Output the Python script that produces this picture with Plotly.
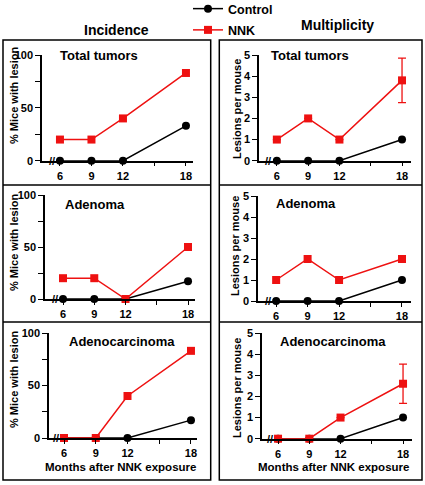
import plotly.graph_objects as go

W, H = 425, 485
months = [6, 9, 12, 18]
xtick_vals = [6, 9, 12, 15, 18]
xtick_text = ["6", "9", "12", "", "18"]

# Incidence (% mice with lesion)
inc_total_ctrl = [0, 0, 0, 33]
inc_total_nnk = [20, 20, 40, 83]
inc_aden_ctrl = [0, 0, 0, 17]
inc_aden_nnk = [20, 20, 0, 50]
inc_carc_ctrl = [0, 0, 0, 17]
inc_carc_nnk = [0, 0, 40, 83]

# Multiplicity (lesions per mouse)
mul_total_ctrl = [0, 0, 0, 1]
mul_total_nnk = [1, 2, 1, 3.8]
mul_total_nnk_err = [0, 0, 0, 1.05]
mul_aden_ctrl = [0, 0, 0, 1]
mul_aden_nnk = [1, 2, 1, 2]
mul_carc_ctrl = [0, 0, 0, 1]
mul_carc_nnk = [0, 0, 1, 2.6]
mul_carc_nnk_err = [0, 0, 0, 0.93]

FONT = "Liberation Sans, Arial, sans-serif"
RED = "#ee1111"

panels = [
    dict(title="Total tumors", kind="inc", ctrl=inc_total_ctrl, nnk=inc_total_nnk, err=None,
         px=(42, 193, 55, 160.7), xr=(4.29, 18.67), tpos=(58, 55), ylab=(14, 96)),
    dict(title="Total tumors", kind="mul", ctrl=mul_total_ctrl, nnk=mul_total_nnk, err=mul_total_nnk_err,
         px=(259, 411, 55, 160.7), xr=(4.29, 18.86), tpos=(269, 55), ylab=(237, 109)),
    dict(title="Adenoma", kind="inc", ctrl=inc_aden_ctrl, nnk=inc_aden_nnk, err=None,
         px=(45, 195, 195, 299), xr=(4.27, 18.67), tpos=(63, 204), ylab=(14, 243)),
    dict(title="Adenoma", kind="mul", ctrl=mul_aden_ctrl, nnk=mul_aden_nnk, err=None,
         px=(258, 411, 196, 301), xr=(4.27, 18.86), tpos=(274, 203), ylab=(235, 246)),
    dict(title="Adenocarcinoma", kind="inc", ctrl=inc_carc_ctrl, nnk=inc_carc_nnk, err=None,
         px=(49, 197, 333, 438), xr=(4.58, 18.57), tpos=(67, 341), ylab=(14, 380)),
    dict(title="Adenocarcinoma", kind="mul", ctrl=mul_carc_ctrl, nnk=mul_carc_nnk, err=mul_carc_nnk_err,
         px=(262, 412, 333, 438.7), xr=(4.46, 18.86), tpos=(278, 341), ylab=(237, 388)),
]

fig = go.Figure()
annotations = []
layout = {}

for i, p in enumerate(panels):
    n = i + 1
    xa = "x" if n == 1 else f"x{n}"
    ya = "y" if n == 1 else f"y{n}"
    xkey = "xaxis" if n == 1 else f"xaxis{n}"
    ykey = "yaxis" if n == 1 else f"yaxis{n}"
    x0, x1, yt, yb = p["px"]
    if p["kind"] == "inc":
        yrange = [0, 100]
        yvals = [0, 25, 50, 75, 100]
        ytext = ["0", "", "50", "", "100"]
        ylabel = "% Mice with lesion"
    else:
        yrange = [0, 5]
        yvals = [0, 1, 2, 3, 4, 5]
        ytext = ["0", "1", "2", "3", "4", "5"]
        ylabel = "Lesions per mouse"
    fig.add_trace(go.Scatter(
        x=months, y=p["ctrl"], xaxis=xa, yaxis=ya, mode="lines+markers",
        name="Control", showlegend=(n == 1), legendgroup="c",
        line=dict(color="black", width=1.5),
        marker=dict(symbol="circle", size=8, color="black"), cliponaxis=False))
    err = None
    if p["err"] is not None:
        err = dict(type="data", array=p["err"], visible=True, color=RED, thickness=1.3, width=4)
    fig.add_trace(go.Scatter(
        x=months, y=p["nnk"], xaxis=xa, yaxis=ya, mode="lines+markers",
        name="NNK", showlegend=(n == 1), legendgroup="n",
        line=dict(color=RED, width=1.5), error_y=err,
        marker=dict(symbol="square", size=8, color=RED), cliponaxis=False))
    layout[xkey] = dict(
        domain=[x0 / W, x1 / W], range=list(p["xr"]), anchor=ya,
        tickmode="array", tickvals=xtick_vals, ticktext=xtick_text,
        ticks="outside", ticklen=4, tickwidth=1.3, tickcolor="black",
        showline=True, linecolor="black", linewidth=1.5, showgrid=False, zeroline=False,
        tickfont=dict(family=FONT, size=11, color="black", weight="bold"))
    layout[ykey] = dict(
        domain=[1 - yb / H, 1 - yt / H], range=yrange, anchor=xa,
        tickmode="array", tickvals=yvals, ticktext=ytext,
        ticks="outside", ticklen=5, tickwidth=1.3, tickcolor="black",
        showline=True, linecolor="black", linewidth=1.5, showgrid=False, zeroline=False,
        tickfont=dict(family=FONT, size=11, color="black", weight="bold"))
    annotations.append(dict(
        text=p["title"], xref="paper", yref="paper", x=p["tpos"][0] / W, y=1 - p["tpos"][1] / H,
        xanchor="left", yanchor="middle", showarrow=False,
        font=dict(family=FONT, size=13, color="black", weight="bold")))
    annotations.append(dict(
        text=ylabel, xref="paper", yref="paper", x=p["ylab"][0] / W, y=1 - p["ylab"][1] / H,
        xanchor="center", yanchor="middle", textangle=-90, showarrow=False,
        font=dict(family=FONT, size=11, color="black", weight="bold")))
    annotations.append(dict(
        text="//", xref=xa, yref=ya, x=5.2, y=0, xanchor="center", yanchor="middle",
        showarrow=False, font=dict(family=FONT, size=11, color="black", weight="bold")))

for cx in (120, 333):
    annotations.append(dict(
        text="Months after NNK exposure", xref="paper", yref="paper", x=cx / W, y=1 - 467 / H,
        xanchor="center", yanchor="middle", showarrow=False,
        font=dict(family=FONT, size=11.5, color="black", weight="bold")))

annotations.append(dict(text="Incidence", xref="paper", yref="paper", x=117 / W, y=1 - 30 / H,
                        xanchor="center", yanchor="middle", showarrow=False,
                        font=dict(family=FONT, size=14, color="black", weight="bold")))
annotations.append(dict(text="Multiplicity", xref="paper", yref="paper", x=337 / W, y=1 - 25 / H,
                        xanchor="center", yanchor="middle", showarrow=False,
                        font=dict(family=FONT, size=14, color="black", weight="bold")))

shapes = []
for bx0, bx1 in ((3, 210.7), (219.3, 422)):
    shapes.append(dict(type="rect", xref="paper", yref="paper",
                       x0=bx0 / W, x1=bx1 / W, y0=1 - 480 / H, y1=1 - 40 / H,
                       line=dict(color="black", width=1.5)))
    for sy in (185, 322):
        shapes.append(dict(type="line", xref="paper", yref="paper",
                           x0=bx0 / W, x1=bx1 / W, y0=1 - sy / H, y1=1 - sy / H,
                           line=dict(color="black", width=1.5)))

fig.update_layout(
    width=W, height=H, margin=dict(l=0, r=0, t=0, b=0, autoexpand=False),
    paper_bgcolor="white", plot_bgcolor="rgba(0,0,0,0)",
    annotations=annotations, shapes=shapes,
    showlegend=True,
    legend=dict(x=188 / W, y=1 + 6 / H, xanchor="left", yanchor="top",
                bgcolor="rgba(0,0,0,0)", borderwidth=0, traceorder="grouped",
                tracegroupgap=2, itemwidth=30,
                font=dict(family=FONT, size=12.5, color="black", weight="bold")),
    **layout,
)

fig.write_html("out.html", config={"displayModeBar": False},
               post_script="document.body.style.margin='0';")
